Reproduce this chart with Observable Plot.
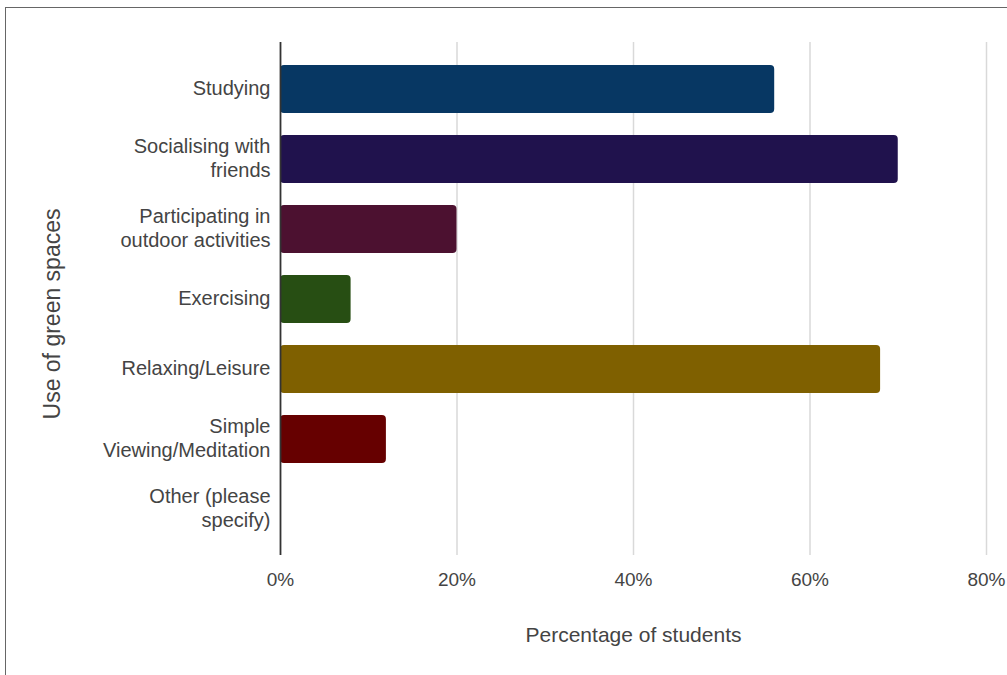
<!DOCTYPE html>
<html>
<head>
<meta charset="utf-8">
<script src="https://cdn.jsdelivr.net/npm/d3@7"></script>
<script src="https://cdn.jsdelivr.net/npm/@observablehq/plot@0.6"></script>
<style>
  html, body { margin: 0; padding: 0; background: #fff; }
  #wrap { position: relative; width: 1007px; height: 675px; overflow: hidden; }
  #border { position: absolute; left: 5px; top: 7px; width: 1010px; height: 680px;
            border-left: 1.5px solid #666; border-top: 1.5px solid #666; pointer-events: none; }
  #chart { position: absolute; left: 0; top: 0; }
</style>
</head>
<body>
<div id="wrap"><div id="chart"></div><div id="border"></div></div>
<script>
const categories = [
  "Studying",
  "Socialising with\nfriends",
  "Participating in\noutdoor activities",
  "Exercising",
  "Relaxing/Leisure",
  "Simple\nViewing/Meditation",
  "Other (please\nspecify)"
];
const values = [0.56, 0.70, 0.20, 0.08, 0.68, 0.12, 0];
const colors = ["#073763", "#20124d", "#4c1130", "#274e13", "#7f6000", "#660000", "#999999"];
const xTicks = [0, 0.2, 0.4, 0.6, 0.8];
const xTitle = "Percentage of students";
const yTitle = "Use of green spaces";

const data = categories.map((c, i) => ({category: c, value: values[i], color: colors[i]}));

const chart = Plot.plot({
  width: 1007,
  height: 675,
  marginLeft: 280,
  marginRight: 21,
  marginTop: 42,
  marginBottom: 120,
  style: {fontFamily: "'Liberation Sans', Arial, sans-serif", color: "#444", background: "transparent"},
  x: {domain: [0, 0.8]},
  y: {domain: categories, padding: 0.32},
  marks: [
    Plot.ruleX(xTicks.filter(d => d > 0), {stroke: "#d9d9d9", strokeWidth: 1.5}),
    Plot.barX(data, {x: "value", y: "category", fill: "color", rx: 4}),
    Plot.ruleX([0], {stroke: "#333", strokeWidth: 1.8}),
    Plot.axisX({ticks: xTicks, tickFormat: d3.format(".0%"), tickSize: 0, tickPadding: 17,
                fontSize: 19, label: null}),
    Plot.axisY({tickSize: 0, tickPadding: 10, fontSize: 20, lineHeight: 1.2, dy: -2, label: null}),
    Plot.text([xTitle], {frameAnchor: "bottom", dy: 86, fontSize: 21, fill: "#444"}),
    Plot.text([yTitle], {frameAnchor: "left", textAnchor: "middle", dx: -228, dy: 15, rotate: -90, fontSize: 23, fill: "#444"})
  ]
});
document.getElementById("chart").appendChild(chart);
</script>
</body>
</html>
